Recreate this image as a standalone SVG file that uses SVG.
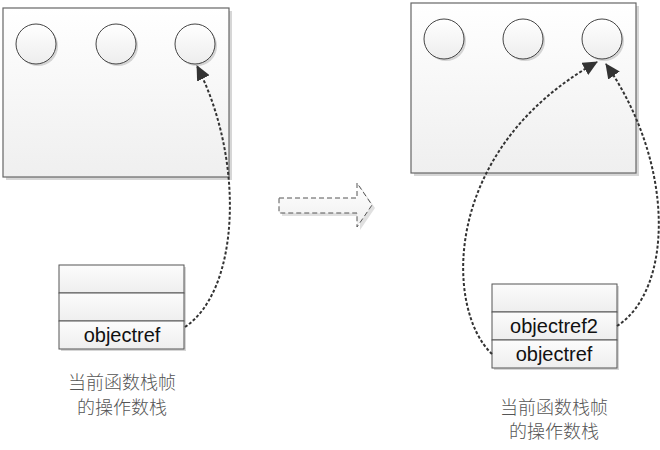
<svg xmlns="http://www.w3.org/2000/svg" width="660" height="450" viewBox="0 0 660 450">
<style>
.frame{fill:url(#g);stroke:#666;stroke-width:1.2}
.sh{fill:#bbb;opacity:0.6}
.obj{fill:url(#gc);stroke:#444;stroke-width:1}
.cell{fill:url(#gs);stroke:#555;stroke-width:1}
.lbl{font-family:"Liberation Sans",Arial,sans-serif;font-size:20px;fill:#111;text-anchor:middle}
.cap{font-family:"Noto Sans CJK SC","Liberation Sans",sans-serif;font-size:18px;fill:#555;text-anchor:middle;font-weight:300}
.ref{fill:none;stroke:#333;stroke-width:2;stroke-dasharray:3,2;marker-end:url(#ah)}
</style>
<defs>
<linearGradient id="g" x1="0" y1="0" x2="0" y2="1"><stop offset="0" stop-color="#fff"/><stop offset="1" stop-color="#efefef"/></linearGradient>
<linearGradient id="gc" x1="0" y1="0" x2="0" y2="1"><stop offset="0" stop-color="#fff"/><stop offset="1" stop-color="#ededed"/></linearGradient>
<linearGradient id="gs" x1="0" y1="0" x2="0" y2="1"><stop offset="0" stop-color="#fcfcfc"/><stop offset="1" stop-color="#eeeeee"/></linearGradient>
<marker id="ah" markerUnits="userSpaceOnUse" markerWidth="16" markerHeight="14" refX="14" refY="7" orient="auto"><path d="M0,0 L15,7 L0,14 Z" fill="#333"/></marker>
</defs>
<g id="heap-left">
<rect class="sh" x="6" y="11" width="226" height="169"/>
<rect class="frame" x="3" y="8" width="226" height="169"/>
<circle class="sh" cx="38" cy="46" r="20"/>
<circle class="obj" cx="36" cy="44" r="20"/>
<circle class="sh" cx="118" cy="46" r="20"/>
<circle class="obj" cx="116" cy="44" r="20"/>
<circle class="sh" cx="197" cy="46" r="20"/>
<circle class="obj" cx="195" cy="44" r="20"/>
</g>
<g id="heap-right">
<rect class="sh" x="414" y="6" width="225" height="170"/>
<rect class="frame" x="411" y="3" width="225" height="170"/>
<circle class="sh" cx="446" cy="41" r="20"/>
<circle class="obj" cx="444" cy="39" r="20"/>
<circle class="sh" cx="525" cy="41" r="20"/>
<circle class="obj" cx="523" cy="39" r="20"/>
<circle class="sh" cx="604" cy="41" r="20"/>
<circle class="obj" cx="602" cy="39" r="20"/>
</g>
<g id="stack-left">
<rect class="sh" x="61" y="267" width="125" height="84"/>
<rect class="cell" x="59" y="265" width="125" height="28"/>
<rect class="cell" x="59" y="293" width="125" height="28"/>
<rect class="cell" x="59" y="321" width="125" height="28"/>
<text class="lbl" x="122" y="342">objectref</text>
<text class="cap" x="122" y="389">当前函数栈帧</text>
<text class="cap" x="122" y="414">的操作数栈</text>
</g>
<g id="stack-right">
<rect class="sh" x="494" y="286" width="125" height="84"/>
<rect class="cell" x="492" y="284" width="125" height="28"/>
<rect class="cell" x="492" y="312" width="125" height="28"/>
<rect class="cell" x="492" y="340" width="125" height="28"/>
<text class="lbl" x="554" y="333">objectref2</text>
<text class="lbl" x="554" y="361">objectref</text>
<text class="cap" x="554" y="414">当前函数栈帧</text>
<text class="cap" x="554" y="438">的操作数栈</text>
</g>
<g id="transition">
<path d="M282,201 L360,201 L360,186 L375,208 L360,230 L360,216 L282,216 Z" fill="#ccc" opacity="0.6"/>
<path d="M279,198 L357,198 L357,183 L372,205 L357,227 L357,213 L279,213 Z" fill="url(#g)" stroke="#555" stroke-width="1" stroke-dasharray="5,3"/>
</g>
<g id="connectors">
<path class="ref" d="M185,327 C240,290 245,160 197,66"/>
<path class="ref" d="M492,354 C445,310 440,150 597,62"/>
<path class="ref" d="M617,326 C673,290 676,165 606,64"/>
</g>
</svg>
